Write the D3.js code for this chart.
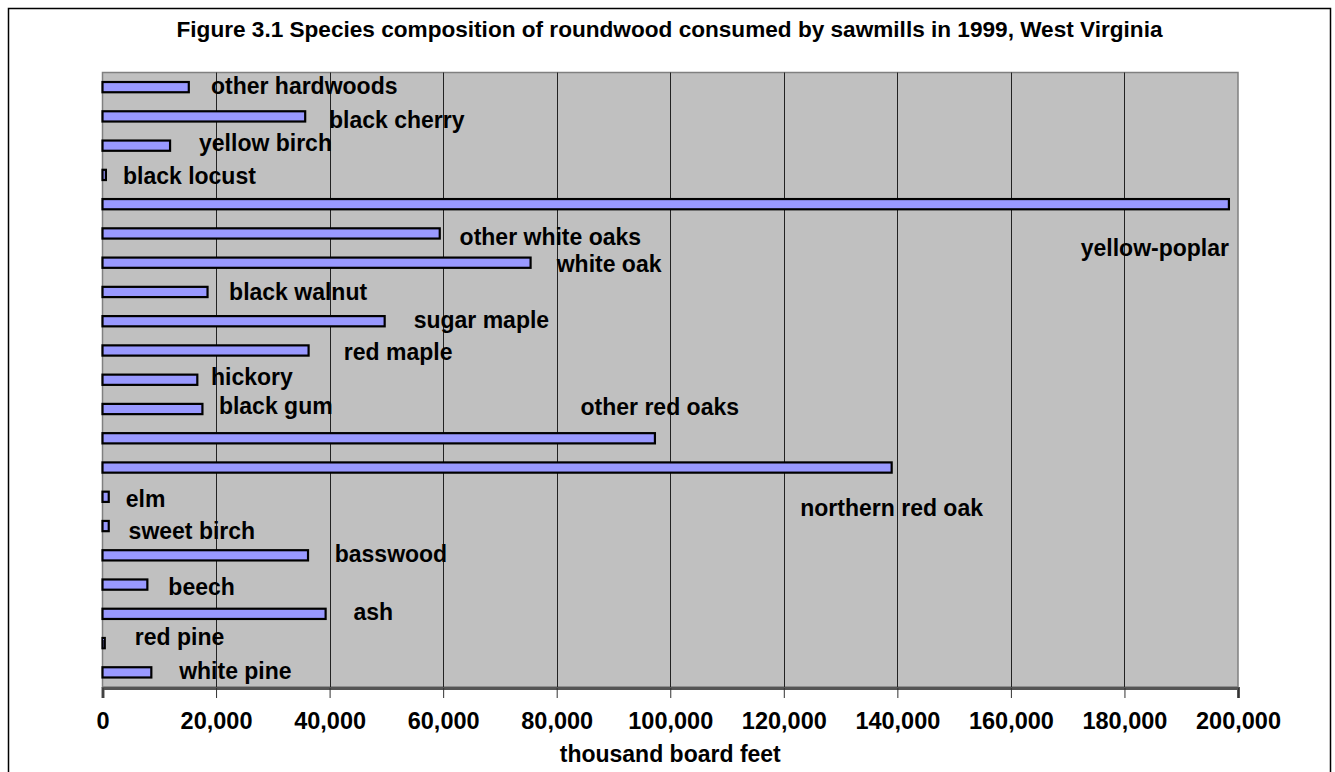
<!DOCTYPE html>
<html>
<head>
<meta charset="utf-8">
<script src="https://cdn.jsdelivr.net/npm/d3@7"></script>
<style>
  html, body { margin: 0; padding: 0; background: #fff; }
  svg { display: block; }
  text { font-family: "Liberation Sans", Arial, sans-serif; font-weight: bold; fill: #000; }
</style>
</head>
<body>
<svg id="chart" width="1335" height="772"></svg>
<script>
// Species, listed from the top of the chart to the bottom
const categories = [
  "other hardwoods", "black cherry", "yellow birch", "black locust", "yellow-poplar",
  "other white oaks", "white oak", "black walnut", "sugar maple", "red maple",
  "hickory", "black gum", "other red oaks", "northern red oak", "elm",
  "sweet birch", "basswood", "beech", "ash", "red pine", "white pine"
];

// Roundwood consumed, thousand board feet
const values = [
  15200, 35700, 11900, 600, 198400,
  59400, 75400, 18500, 49700, 36300,
  16700, 17600, 97300, 139000, 1100,
  1100, 36200, 7900, 39300, 400, 8600
];

const tickValues = [0, 20000, 40000, 60000, 80000, 100000, 120000, 140000, 160000, 180000, 200000];

// Where each species name sits: start along the value axis, and baseline shift from its row centre
const labelAt = [
  19100, 39900, 17000, 3600, 172300,
  62900, 80000, 22300, 54800, 42500,
  19100, 20500, 84200, 122900, 4100,
  4600, 40900, 11600, 44200, 5700, 13500
];
const labelDy = [
  7, 12, 5, 9, 52,
  12, 9, 8, 7, 10,
  5, 5, -23, 48, 10,
  13, 7, 10, 6, 2, 7
];

const titleText = "Figure 3.1 Species composition of roundwood consumed by sawmills in 1999, West Virginia";
const axisTitle = "thousand board feet";

const svg = d3.select("#chart");
const W = 1335, H = 772;
const plot = { left: 102.5, right: 1238, top: 72.5, bottom: 687 };

// outer chart frame
svg.append("rect")
  .attr("x", 8.5).attr("y", 8.5)
  .attr("width", 1322).attr("height", 775)
  .attr("fill", "#fff").attr("stroke", "#000").attr("stroke-width", 1.5);

svg.append("text")
  .attr("x", 669.5).attr("y", 37)
  .attr("text-anchor", "middle")
  .style("font-size", "22.6px")
  .text(titleText);

const x = d3.scaleLinear().domain([0, 200000]).range([plot.left, plot.right]);
const y = d3.scaleBand().domain(categories)
  .range([plot.top, plot.bottom])
  .paddingInner(0.65).paddingOuter(0.325);

// plot background
svg.append("rect")
  .attr("x", plot.left).attr("y", plot.top)
  .attr("width", plot.right - plot.left).attr("height", plot.bottom - plot.top)
  .attr("fill", "#c0c0c0").attr("stroke", "#808080").attr("stroke-width", 1.5);

// vertical gridlines
svg.append("g").selectAll("line")
  .data(tickValues.slice(1, -1))
  .join("line")
  .attr("x1", d => Math.round(x(d)) + 0.5).attr("x2", d => Math.round(x(d)) + 0.5)
  .attr("y1", plot.top).attr("y2", plot.bottom)
  .attr("stroke", "#222").attr("stroke-width", 1);

// bars
svg.append("g").selectAll("rect")
  .data(categories)
  .join("rect")
  .attr("x", x(0))
  .attr("y", d => y(d))
  .attr("width", (d, i) => x(values[i]) - x(0))
  .attr("height", y.bandwidth())
  .attr("fill", "#9999ff")
  .attr("stroke", "#000")
  .attr("stroke-width", 2.2);

// species names
svg.append("g").selectAll("text")
  .data(categories)
  .join("text")
  .attr("x", (d, i) => x(labelAt[i]))
  .attr("y", (d, i) => y(d) + y.bandwidth() / 2 + labelDy[i])
  .style("font-size", "23px")
  .text(d => d);

// value axis
const axis = d3.axisBottom(x)
  .tickValues(tickValues)
  .tickFormat(d3.format(","))
  .tickSize(10)
  .tickPadding(14);

const gx = svg.append("g")
  .attr("transform", `translate(0,${plot.bottom + 1})`)
  .call(axis);
gx.select(".domain").attr("stroke", "#555").attr("stroke-width", 3);
gx.selectAll(".tick line").attr("stroke", "#333").attr("stroke-width", 1);
gx.selectAll(".tick text")
  .style("font-size", "23.5px")
  .style("font-family", "'Liberation Sans', Arial, sans-serif")
  .style("font-weight", "bold")
  .attr("fill", "#000");

svg.append("text")
  .attr("x", (plot.left + plot.right) / 2).attr("y", 762)
  .attr("text-anchor", "middle")
  .style("font-size", "23px")
  .text(axisTitle);
</script>
</body>
</html>
